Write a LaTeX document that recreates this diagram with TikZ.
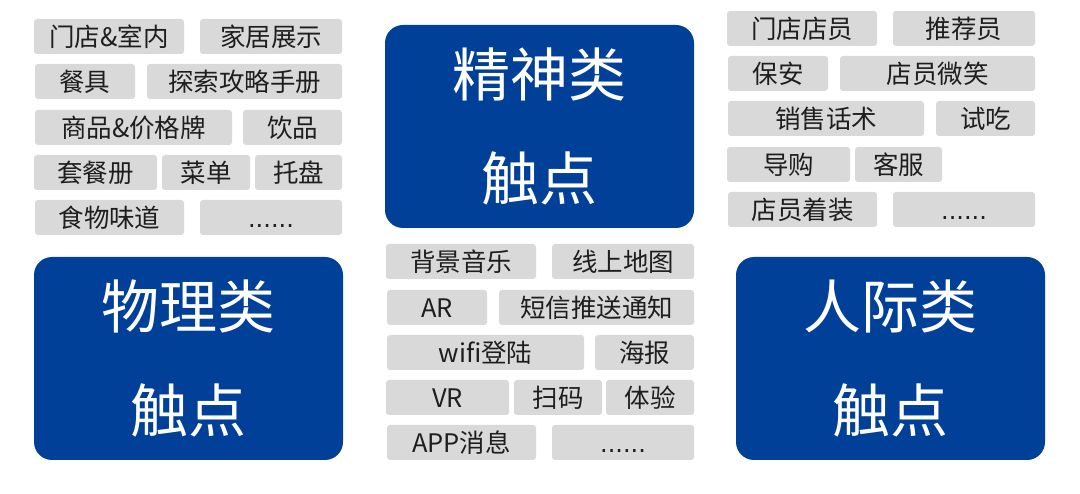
\documentclass[tikz,border=0pt]{standalone}
\usepackage{fontspec}
\setmainfont{Noto Sans CJK SC}
\newfontfamily\dotfont{DejaVu Sans}
\definecolor{tpblue}{RGB}{0,64,152}
\definecolor{tpgray}{RGB}{217,217,217}
\definecolor{tptext}{RGB}{30,30,30}
\tikzset{
  gbox/.style={fill=tpgray, rounded corners=3pt, inner sep=0pt,
    text height=19.5pt, text depth=0pt,
    font=\fontsize{25.5}{25.5}\selectfont, text=tptext},
  bbox/.style={fill=tpblue, rounded corners=18pt, inner sep=0pt, text=white,
    align=center, font=\fontsize{58}{104}\selectfont},
}
\newcommand\gb[6]{\node[gbox, minimum width={(#4-#2)*1pt}, minimum height={(#5-#3)*1pt}] (#1) at ({(#2+#4)/2},{(#3+#5)/2}) {#6};}
\newcommand\bb[6]{\node[bbox, minimum width={(#4-#2)*1pt}, minimum height={(#5-#3)*1pt}] (#1) at ({(#2+#4)/2},{(#3+#5)/2}) {#6};}
\newcommand\tpdots{{\dotfont\fontsize{24}{24}\selectfont ......}}
\begin{document}
\begin{tikzpicture}[x=1pt,y=-1pt]
\path[fill=white,use as bounding box] (0,0) rectangle (1080,494);
% left group
\gb{l1}{34}{19}{184}{54}{门店\&室内}
\gb{l2}{200}{19}{342}{54}{家居展示}
\gb{l3}{35}{64}{135}{99}{餐具}
\gb{l4}{147}{64}{342}{99}{探索攻略手册}
\gb{l5}{35}{110}{232}{145}{商品\&价格牌}
\gb{l6}{243}{110}{342}{145}{饮品}
\gb{l7}{34}{155}{157}{190}{套餐册}
\gb{l8}{162}{155}{250}{190}{菜单}
\gb{l9}{255}{155}{342}{190}{托盘}
\gb{l10}{35}{200}{184}{235}{食物味道}
\gb{l11}{200}{200}{342}{235}{\tpdots}
% middle group
\gb{m1}{386}{244}{536}{279}{背景音乐}
\gb{m2}{552}{244}{694}{279}{线上地图}
\gb{m3}{387}{290}{487}{325}{AR}
\gb{m4}{499}{290}{694}{325}{短信推送通知}
\gb{m5}{387}{335}{584}{370}{wifi登陆}
\gb{m6}{595}{335}{694}{370}{海报}
\gb{m7}{386}{380}{509}{415}{VR}
\gb{m8}{514}{380}{602}{415}{扫码}
\gb{m9}{606}{380}{694}{415}{体验}
\gb{m10}{387}{425}{536}{460}{APP消息}
\gb{m11}{552}{425}{694}{460}{\tpdots}
% right group
\gb{r1}{727}{11}{877}{46}{门店店员}
\gb{r2}{893}{11}{1035}{46}{推荐员}
\gb{r3}{728}{56}{828}{91}{保安}
\gb{r4}{840}{56}{1035}{91}{店员微笑}
\gb{r5}{728}{101}{924}{136}{销售话术}
\gb{r6}{936}{101}{1035}{136}{试吃}
\gb{r7}{727}{147}{850}{182}{导购}
\gb{r8}{855}{147}{942}{182}{客服}
\gb{r9}{728}{192}{877}{227}{店员着装}
\gb{r10}{893}{192}{1035}{227}{\tpdots}
% blue boxes
\bb{b1}{385}{25}{694}{228}{精神类\\触点}
\bb{b2}{34}{257}{343}{460}{物理类\\触点}
\bb{b3}{736}{257}{1045}{460}{人际类\\触点}
\end{tikzpicture}
\end{document}
